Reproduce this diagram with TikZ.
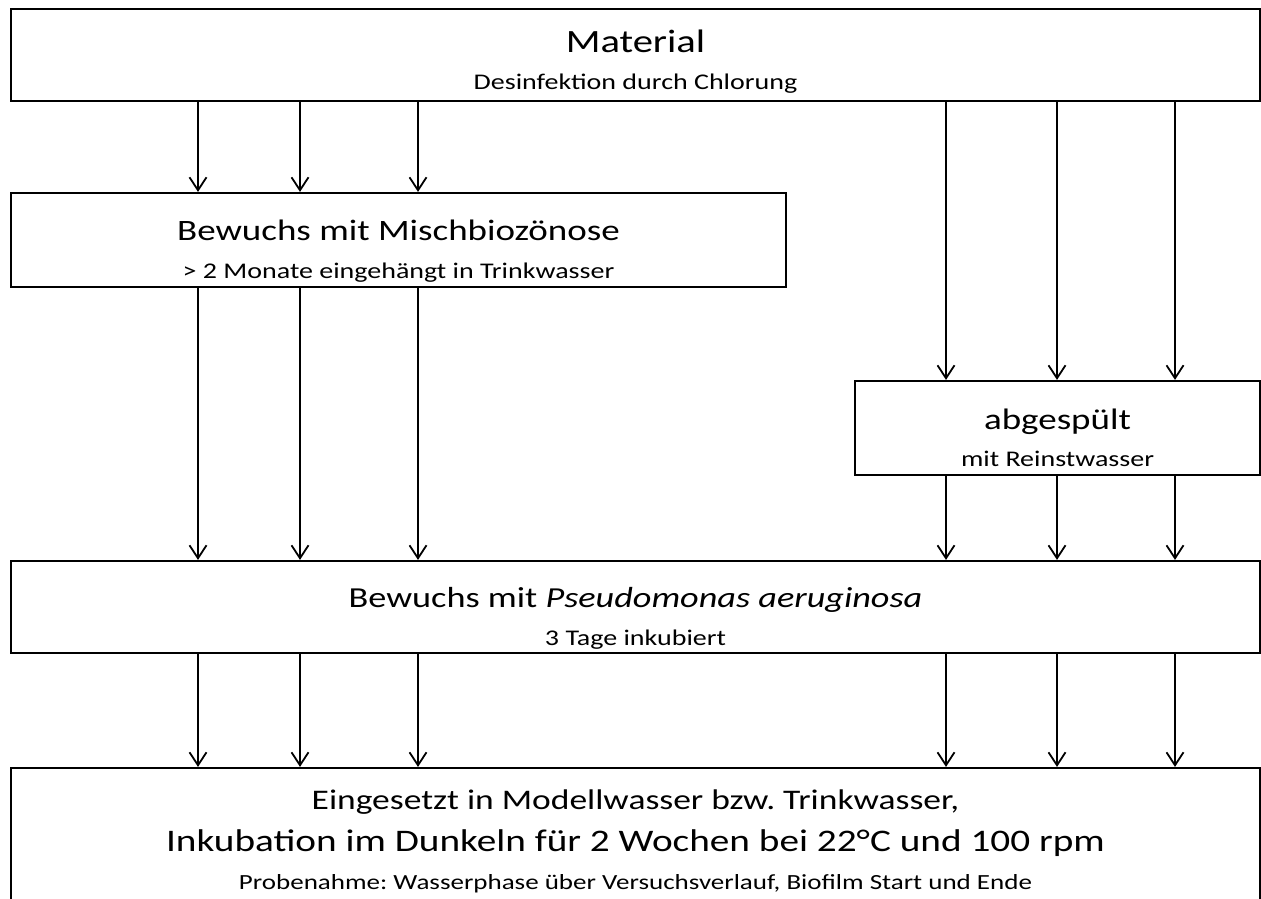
\documentclass[tikz,border=0pt]{standalone}
\usepackage{fontspec}
\setmainfont{Carlito}[FakeStretch=1.25]
\usetikzlibrary{positioning, arrows.meta}
\frenchspacing

\newcommand{\bigline}{\fontsize{29.6}{30}\selectfont}
\newcommand{\smallline}{\fontsize{22.4}{23}\selectfont}
\newcommand{\lift}[1]{\rule{0pt}{#1}}

\begin{document}
\begin{tikzpicture}[
  x=1pt, y=-1pt,
  box/.style={
    draw,
    line width=2.2pt,
    align=center,
    inner sep=0pt,
    fill=white
  },
  arrow/.style={-{Straight Barb[length=13pt, width=17pt, line width=1.8pt]}, line width=1.8pt}
]

% Frame
\useasboundingbox (0,0) rectangle (1261,899);
\clip (0,0) rectangle (1261,899);
\fill[white] (0,0) rectangle (1261,899);

% ==================== BOXES ====================
\node[box, font=\fontsize{20}{37}\selectfont, minimum width=1249pt, minimum height=92pt] (material) at (635.5,55) {
  \fontsize{32.5}{33}\selectfont\lift{36pt}Material \\
  \smallline Desinfektion durch Chlorung
};

\node[box, font=\fontsize{20}{38}\selectfont, minimum width=775pt, minimum height=94pt] (mischbio) at (398.5,240) {
  \bigline\lift{42pt}Bewuchs mit Mischbiozönose \\
  \smallline > 2 Monate eingehängt in Trinkwasser
};

\node[box, font=\fontsize{20}{37}\selectfont, minimum width=405pt, minimum height=94pt] (abgespuelt) at (1057.5,428) {
  \bigline\lift{40pt}abgespült \\
  \smallline mit Reinstwasser
};

\node[box, font=\fontsize{20}{38}\selectfont, minimum width=1249pt, minimum height=92pt] (pseudo) at (635.5,607) {
  \fontsize{29}{30}\selectfont\lift{42pt}Bewuchs mit \textit{Pseudomonas aeruginosa} \\
  \smallline 3 Tage inkubiert
};

\node[box, font=\fontsize{20}{38}\selectfont, minimum width=1249pt, minimum height=146pt] (einsatz) at (635.5,841) {
  \fontsize{28.4}{30}\selectfont Eingesetzt in Modellwasser bzw. Trinkwasser, \\[4pt]
  \fontsize{31.4}{32}\selectfont Inkubation im Dunkeln für 2 Wochen bei 22°C und 100 rpm \\
  \fontsize{21.6}{22}\selectfont Probenahme: Wasserphase über Versuchsverlauf, Biofilm Start und Ende
};

% ==================== ARROWS ====================
% left branch
\foreach \x in {198,300,418} {
  \draw[arrow] (material.south -| \x,0) -- (mischbio.north -| \x,0);
  \draw[arrow] (mischbio.south -| \x,0) -- (pseudo.north -| \x,0);
  \draw[arrow] (pseudo.south -| \x,0) -- (einsatz.north -| \x,0);
}

% right branch
\foreach \x in {946,1057,1175} {
  \draw[arrow] (material.south -| \x,0) -- (abgespuelt.north -| \x,0);
  \draw[arrow] (abgespuelt.south -| \x,0) -- (pseudo.north -| \x,0);
  \draw[arrow] (pseudo.south -| \x,0) -- (einsatz.north -| \x,0);
}

\end{tikzpicture}
\end{document}
